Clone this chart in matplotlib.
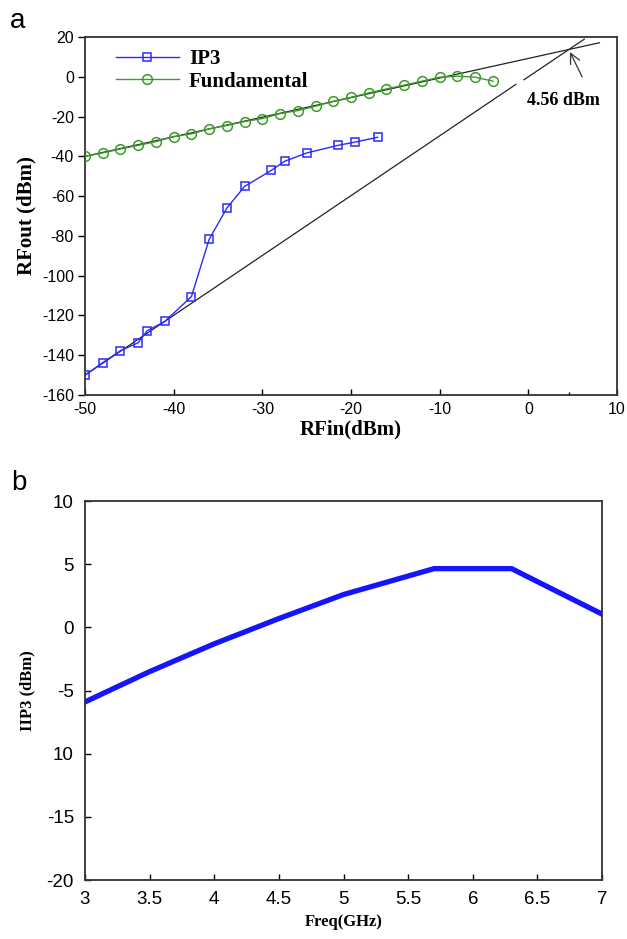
import numpy as np
import matplotlib
matplotlib.use("Agg")
import matplotlib.pyplot as plt

plt.rcParams['font.family'] = ['Liberation Sans', 'DejaVu Sans']
plt.rcParams['axes.unicode_minus'] = False

# ----- panel a data ----- #
fund_x = [-50, -48, -46, -44, -42, -40, -38, -36, -34, -32, -30, -28,
          -26, -24, -22, -20, -18, -16, -14, -12, -10, -8, -6, -4]
fund_y = [-40, -38.3, -36.3, -34.5, -32.6, -30.1, -28.7, -26.2, -24.5, -22.5, -21, -18.5,
          -17, -14.8, -12.3, -10.3, -8.1, -6.1, -4.2, -2.2, -0.2, 0.3, -0.2, -2.2]
ip3_x = [-50, -48, -46, -44, -43, -41, -38, -36, -34, -32, -29, -27.5, -25, -21.5, -19.5, -17]
ip3_y = [-150, -143.7, -137.7, -133.7, -127.7, -123, -110.5, -81.7, -66, -55.1, -47.1,
         -42.5, -38.3, -34.5, -32.8, -30.4]

# extrapolated lines (slope 1 and slope 3) meeting at the intercept point
fit1_x = [-50, 8.0]
fit1_y = [-40, 17.1]
fit3_x1 = [-50, -1.4]
fit3_y1 = [-150, -3.8]
fit3_x2 = [-0.5, 6.3]
fit3_y2 = [-1.5, 18.9]
iip3_x = 4.56
iip3_y = 13.7

# ----- panel b data ----- #
freq = [3, 3.5, 4, 4.5, 5, 5.7, 6.3, 7]
iip3 = [-5.9, -3.5, -1.3, 0.7, 2.6, 4.65, 4.65, 1.05]
b_ylabels = ['-20', '-15', '10', '-5', '0', '5', '10']

blue = '#2a2aff'
blue_b = '#1414ff'
green = '#3c9a2a'
spine_col = '#333333'
serif = ['Liberation Serif', 'DejaVu Serif']

fig = plt.figure(figsize=(6.27, 9.39), dpi=100)

###########################################
# ----- panel a ----- #
ax = fig.add_axes([0.1356, 0.5793, 0.8485, 0.3813])
ax.plot(fit1_x, fit1_y, color='#222222', lw=0.9, zorder=2)
ax.plot(fit3_x1, fit3_y1, color='#222222', lw=0.9, zorder=2)
ax.plot(fit3_x2, fit3_y2, color='#222222', lw=0.9, zorder=2)
ax.plot(ip3_x, ip3_y, color=blue, lw=1.0, marker='s', ms=5.5, mfc='none',
        mec=blue, mew=1.1, label='IP3', zorder=3)
ax.plot(fund_x, fund_y, color=green, lw=1.0, marker='o', ms=7, mfc='none',
        mec=green, mew=1.1, label='Fundamental', zorder=3)

ax.annotate('', xy=(iip3_x, iip3_y), xytext=(6.2, -1.3),
            arrowprops=dict(arrowstyle='->', color='#333333', lw=0.9, mutation_scale=18))
ax.text(3.95, -11.8, '4.56 dBm', family=serif, fontweight='bold', fontsize=13,
        ha='center', va='center')

ax.set_xlim(-50, 10)
ax.set_ylim(-160, 20)
ax.set_xticks(np.arange(-50, 11, 10))
ax.set_yticks(np.arange(-160, 21, 20))
ax.set_xticks([iip3_x], minor=True)
ax.tick_params(axis='x', which='major', direction='in', length=4, width=1, labelsize=11.5, pad=5)
ax.tick_params(axis='x', which='minor', direction='in', length=2, width=1)
ax.tick_params(axis='y', direction='out', length=5, width=1, labelsize=11.5, pad=3)
for s in ax.spines.values():
    s.set_color(spine_col)
    s.set_linewidth(1.3)
ax.set_xlabel('RFin(dBm)', family=serif, fontweight='bold', fontsize=15, labelpad=2)
ax.set_ylabel('RFout (dBm)', family=serif, fontweight='bold', fontsize=15, labelpad=4)
leg = ax.legend(loc='upper left', frameon=False, prop=dict(family=serif, weight='bold', size=15),
                handlelength=3.0, handletextpad=0.5, labelspacing=0.1,
                borderaxespad=0.2, bbox_to_anchor=(0.035, 1.0))

fig.text(0.028, 0.978, 'a', fontsize=20, ha='center', va='center')

###########################################
# ----- panel b ----- #
bx = fig.add_axes([0.1356, 0.0628, 0.8246, 0.4036])
bx.plot(freq, iip3, color=blue_b, lw=3.8, solid_joinstyle='miter', clip_on=True)
bx.set_xlim(3, 7)
bx.set_ylim(-20, 10)
bx.set_xticks(np.arange(3, 7.01, 0.5))
bx.set_xticklabels(['3', '3.5', '4', '4.5', '5', '5.5', '6', '6.5', '7'])
bx.set_yticks(np.arange(-20, 11, 5))
bx.set_yticklabels(b_ylabels)
bx.tick_params(direction='in', length=4, width=1, labelsize=13.5, pad=8)
for s in bx.spines.values():
    s.set_color(spine_col)
    s.set_linewidth(1.3)
bx.set_xlabel('Freq(GHz)', family=serif, fontweight='bold', fontsize=12, labelpad=4)
bx.set_ylabel('IIP3 (dBm)', family=serif, fontweight='bold', fontsize=12, labelpad=8)

fig.text(0.03, 0.486, 'b', fontsize=20, ha='center', va='center')

fig.savefig('out.png', dpi=100)
